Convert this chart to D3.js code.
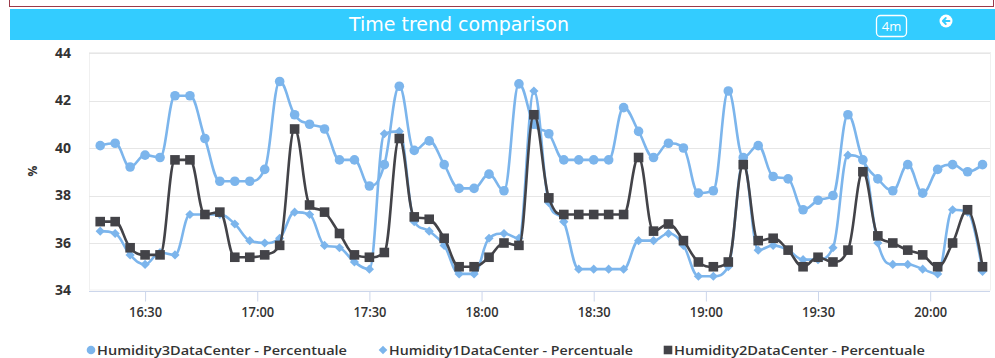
<!DOCTYPE html>
<html>
<head>
<meta charset="utf-8">
<script src="https://cdn.jsdelivr.net/npm/d3@7"></script>
<style>
  html, body { margin: 0; padding: 0; background: #fff; }
  svg { display: block; }
</style>
</head>
<body>
<svg id="chart" width="995" height="358"></svg>
<script>
// ---------- DATA ----------
const times = ["16:18","16:22","16:26","16:30","16:34","16:38","16:42","16:46","16:50","16:54",
  "16:58","17:02","17:06","17:10","17:14","17:18","17:22","17:26","17:30","17:34",
  "17:38","17:42","17:46","17:50","17:54","17:58","18:02","18:06","18:10","18:14",
  "18:18","18:22","18:26","18:30","18:34","18:38","18:42","18:46","18:50","18:54",
  "18:58","19:02","19:06","19:10","19:14","19:18","19:22","19:26","19:30","19:34",
  "19:38","19:42","19:46","19:50","19:54","19:58","20:02","20:06","20:10","20:14"];

const humidity3 = [40.1,40.2,39.2,39.7,39.6,42.2,42.2,40.4,38.6,38.6,
  38.6,39.1,42.8,41.4,41.0,40.8,39.5,39.5,38.4,39.3,
  42.6,39.9,40.3,39.3,38.3,38.3,38.9,38.2,42.7,41.0,
  40.6,39.5,39.5,39.5,39.5,41.7,40.7,39.6,40.2,40.0,
  38.1,38.2,42.4,39.6,40.1,38.8,38.7,37.4,37.8,38.0,
  41.4,39.5,38.7,38.2,39.3,38.1,39.1,39.3,39.0,39.3];

const humidity1 = [36.5,36.4,35.5,35.1,35.6,35.5,37.2,37.2,37.2,36.8,
  36.1,36.0,36.2,37.3,37.2,35.9,35.8,35.2,34.9,40.6,
  40.7,36.9,36.5,35.9,34.7,34.7,36.2,36.4,36.2,42.4,
  37.7,36.9,34.9,34.9,34.9,34.9,36.1,36.1,36.4,35.9,
  34.6,34.6,35.0,39.4,35.7,35.9,35.7,35.3,35.3,35.8,
  39.7,39.5,36.0,35.1,35.1,34.9,34.7,37.4,37.3,34.8];

const humidity2 = [36.9,36.9,35.8,35.5,35.5,39.5,39.5,37.2,37.3,35.4,
  35.4,35.5,35.9,40.8,37.6,37.3,36.4,35.5,35.4,35.6,
  40.4,37.1,37.0,36.2,35.0,35.0,35.4,36.0,35.9,41.4,
  37.9,37.2,37.2,37.2,37.2,37.2,39.6,36.5,36.8,36.1,
  35.2,35.0,35.2,39.3,36.1,36.2,35.7,35.0,35.4,35.2,
  35.7,39.0,36.3,36.0,35.7,35.5,35.0,36.0,37.4,35.0];

const seriesNames = ["Humidity3DataCenter - Percentuale",
                     "Humidity1DataCenter - Percentuale",
                     "Humidity2DataCenter - Percentuale"];
const xTickLabels = ["16:30","17:00","17:30","18:00","18:30","19:00","19:30","20:00"];
const yTicks = [34, 36, 38, 40, 42, 44];
const titleText = "Time trend comparison";
const yAxisTitle = "%";
const rangeLabel = "4m";

// ---------- HELPERS ----------
const parseT = d3.timeParse("%H:%M");
const fmtT = d3.timeFormat("%H:%M");
const dates = times.map(parseT);

// Highcharts-like spline curve for d3.line
function HCSpline(context) { this._context = context; }
HCSpline.prototype = {
  areaStart() {}, areaEnd() {},
  lineStart() { this._pts = []; },
  point(x, y) { this._pts.push([+x, +y]); },
  lineEnd() {
    const p = this._pts, n = p.length, ctx = this._context;
    if (!n) return;
    const sm = 1.5, den = sm + 1;
    const lc = p.map(q => [q[0], q[1]]), rc = p.map(q => [q[0], q[1]]);
    for (let i = 1; i < n - 1; i++) {
      const [lx, ly] = p[i - 1], [x, y] = p[i], [nx, ny] = p[i + 1];
      let lcx = (sm * x + lx) / den, lcy = (sm * y + ly) / den;
      let rcx = (sm * x + nx) / den, rcy = (sm * y + ny) / den;
      let corr = 0;
      if (rcx !== lcx) corr = ((rcy - lcy) * (rcx - x)) / (rcx - lcx) + y - rcy;
      lcy += corr; rcy += corr;
      if (lcy > ly && lcy > y) { lcy = Math.max(ly, y); rcy = 2 * y - lcy; }
      else if (lcy < ly && lcy < y) { lcy = Math.min(ly, y); rcy = 2 * y - lcy; }
      if (rcy > ny && rcy > y) { rcy = Math.max(ny, y); lcy = 2 * y - rcy; }
      else if (rcy < ny && rcy < y) { rcy = Math.min(ny, y); lcy = 2 * y - rcy; }
      lc[i] = [lcx, lcy]; rc[i] = [rcx, rcy];
    }
    ctx.moveTo(p[0][0], p[0][1]);
    for (let i = 1; i < n; i++) {
      ctx.bezierCurveTo(rc[i - 1][0], rc[i - 1][1], lc[i][0], lc[i][1], p[i][0], p[i][1]);
    }
  }
};
const curveHC = ctx => new HCSpline(ctx);

// ---------- LAYOUT ----------
const svg = d3.select("#chart");
const W = 995, H = 358;
const plot = { left: 89, right: 990, top: 53, bottom: 290.5 };
const FONT = "'Open Sans', 'Noto Sans', sans-serif";

// top framed box
svg.append("rect").attr("x", 9.5).attr("y", -2).attr("width", 984).attr("height", 8.5)
  .attr("fill", "#fff").attr("stroke", "#9b3a4a").attr("stroke-width", 1);

// header bar
svg.append("rect").attr("x", 10).attr("y", 9).attr("width", W - 10).attr("height", 31)
  .attr("fill", "#33ccff");
svg.append("text").attr("x", 459).attr("y", 31)
  .attr("text-anchor", "middle")
  .attr("font-family", "'Liberation Sans Narrow', 'DejaVu Sans Condensed', 'Roboto', sans-serif")
  .attr("font-stretch", "condensed")
  .attr("font-size", 19).attr("fill", "#fff")
  .attr("textLength", 220).attr("lengthAdjust", "spacingAndGlyphs")
  .text(titleText);

// 4m box
svg.append("rect").attr("x", 876.5).attr("y", 15.5).attr("width", 30).attr("height", 21)
  .attr("rx", 4).attr("fill", "none").attr("stroke", "#fff").attr("stroke-width", 1.3);
svg.append("text").attr("x", 891.5).attr("y", 31).attr("text-anchor", "middle")
  .attr("font-family", FONT).attr("font-size", 13).attr("fill", "#fff").text(rangeLabel);

// back arrow icon
const ic = svg.append("g").attr("transform", "translate(946,21)");
ic.append("circle").attr("r", 6.5).attr("fill", "#fff");
ic.append("path").attr("d", "M3.5,0 H-3 M-0.2,-3 L-3.2,0 L-0.2,3")
  .attr("fill", "none").attr("stroke", "#33ccff").attr("stroke-width", 1.8)
  .attr("stroke-linecap", "round").attr("stroke-linejoin", "round");

// ---------- SCALES ----------
const t0 = d3.timeMinute.offset(dates[0], -2.75);
const t1 = d3.timeMinute.offset(dates[dates.length - 1], 2.6);
const x = d3.scaleTime().domain([t0, t1]).range([plot.left, plot.right]);
const y = d3.scaleLinear().domain([34, 44]).range([plot.bottom, plot.top]);

// plot background border (faint)
svg.append("rect").attr("x", plot.left + 0.5).attr("y", plot.top - 0.5)
  .attr("width", plot.right - plot.left).attr("height", plot.bottom - plot.top)
  .attr("fill", "none").attr("stroke", "#f0f0f0").attr("stroke-width", 1);

// gridlines
svg.append("g").selectAll("line").data(yTicks).join("line")
  .attr("x1", plot.left).attr("x2", plot.right)
  .attr("y1", d => Math.round(y(d)) + 0.5).attr("y2", d => Math.round(y(d)) + 0.5)
  .attr("stroke", "#e6e6e6").attr("stroke-width", 1);

// y axis labels
const yAxis = d3.axisLeft(y).tickValues(yTicks).tickSize(0).tickPadding(18);
const gy = svg.append("g").attr("transform", `translate(${plot.left},0)`).call(yAxis);
gy.select(".domain").remove();
gy.selectAll("text").attr("font-family", FONT).attr("font-size", 14)
  .attr("font-weight", 700).attr("fill", "#333");

// y axis title
svg.append("text").attr("transform", "translate(37,171) rotate(-90)")
  .attr("text-anchor", "middle").attr("font-family", FONT).attr("font-size", 12)
  .attr("font-weight", 700).attr("fill", "#333").text(yAxisTitle);

// x axis
const xTickDates = xTickLabels.map(parseT);
const xAxis = d3.axisBottom(x).tickValues(xTickDates).tickFormat(fmtT)
  .tickSize(10).tickPadding(6).tickSizeOuter(0);
const gx = svg.append("g").attr("transform", `translate(0,${Math.round(plot.bottom) + 0.5})`).call(xAxis);
gx.select(".domain").attr("stroke", "#ccd6eb").attr("d", `M${plot.left},0H${plot.right}`);
gx.selectAll(".tick line").attr("stroke", "#ccd6eb");
gx.selectAll("text").attr("font-family", FONT).attr("font-size", 13.5)
  .attr("font-weight", 600).attr("fill", "#333")
  .attr("textLength", 33).attr("lengthAdjust", "spacingAndGlyphs");

// ---------- SERIES ----------
const LIGHT = "#7cb5ec", DARK = "#434348";
const line = d3.line().x((d, i) => x(dates[i])).y(d => y(d)).curve(curveHC);

const series = [
  { name: seriesNames[0], values: humidity3, color: LIGHT, marker: "circle" },
  { name: seriesNames[1], values: humidity1, color: LIGHT, marker: "diamond" },
  { name: seriesNames[2], values: humidity2, color: DARK, marker: "square" }
];

function markerPath(type) {
  if (type === "circle") return d3.symbol(d3.symbolCircle, Math.PI * 4.8 * 4.8)();
  if (type === "square") return "M-4.8,-4.8H4.8V4.8H-4.8Z";
  return "M0,-4.6L4.6,0L0,4.6L-4.6,0Z";
}

series.forEach(s => {
  const g = svg.append("g");
  g.append("path").attr("d", line(s.values)).attr("fill", "none")
    .attr("stroke", s.color).attr("stroke-width", 2.6)
    .attr("stroke-linejoin", "round").attr("stroke-linecap", "round");
  g.selectAll("path.m").data(s.values).join("path").attr("class", "m")
    .attr("transform", (d, i) => `translate(${x(dates[i])},${y(d)})`)
    .attr("d", markerPath(s.marker)).attr("fill", s.color);
});

// ---------- LEGEND ----------
const legendX = [91, 383, 668];
const legendW = [250, 244, 251];
const lg = svg.append("g");
series.forEach((s, i) => {
  const item = lg.append("g").attr("transform", `translate(${legendX[i]},350)`);
  let mp;
  if (s.marker === "circle") mp = d3.symbol(d3.symbolCircle, Math.PI * 4.3 * 4.3)();
  else if (s.marker === "square") mp = "M-4.3,-4.3H4.3V4.3H-4.3Z";
  else mp = "M0,-4.3L4.3,0L0,4.3L-4.3,0Z";
  item.append("path").attr("d", mp).attr("fill", s.color);
  item.append("text").attr("x", 6).attr("y", 4.5).attr("font-family", FONT)
    .attr("font-size", 13).attr("font-weight", 600).attr("fill", "#333")
    .attr("textLength", legendW[i]).attr("lengthAdjust", "spacingAndGlyphs")
    .text(s.name);
});
</script>
</body>
</html>
